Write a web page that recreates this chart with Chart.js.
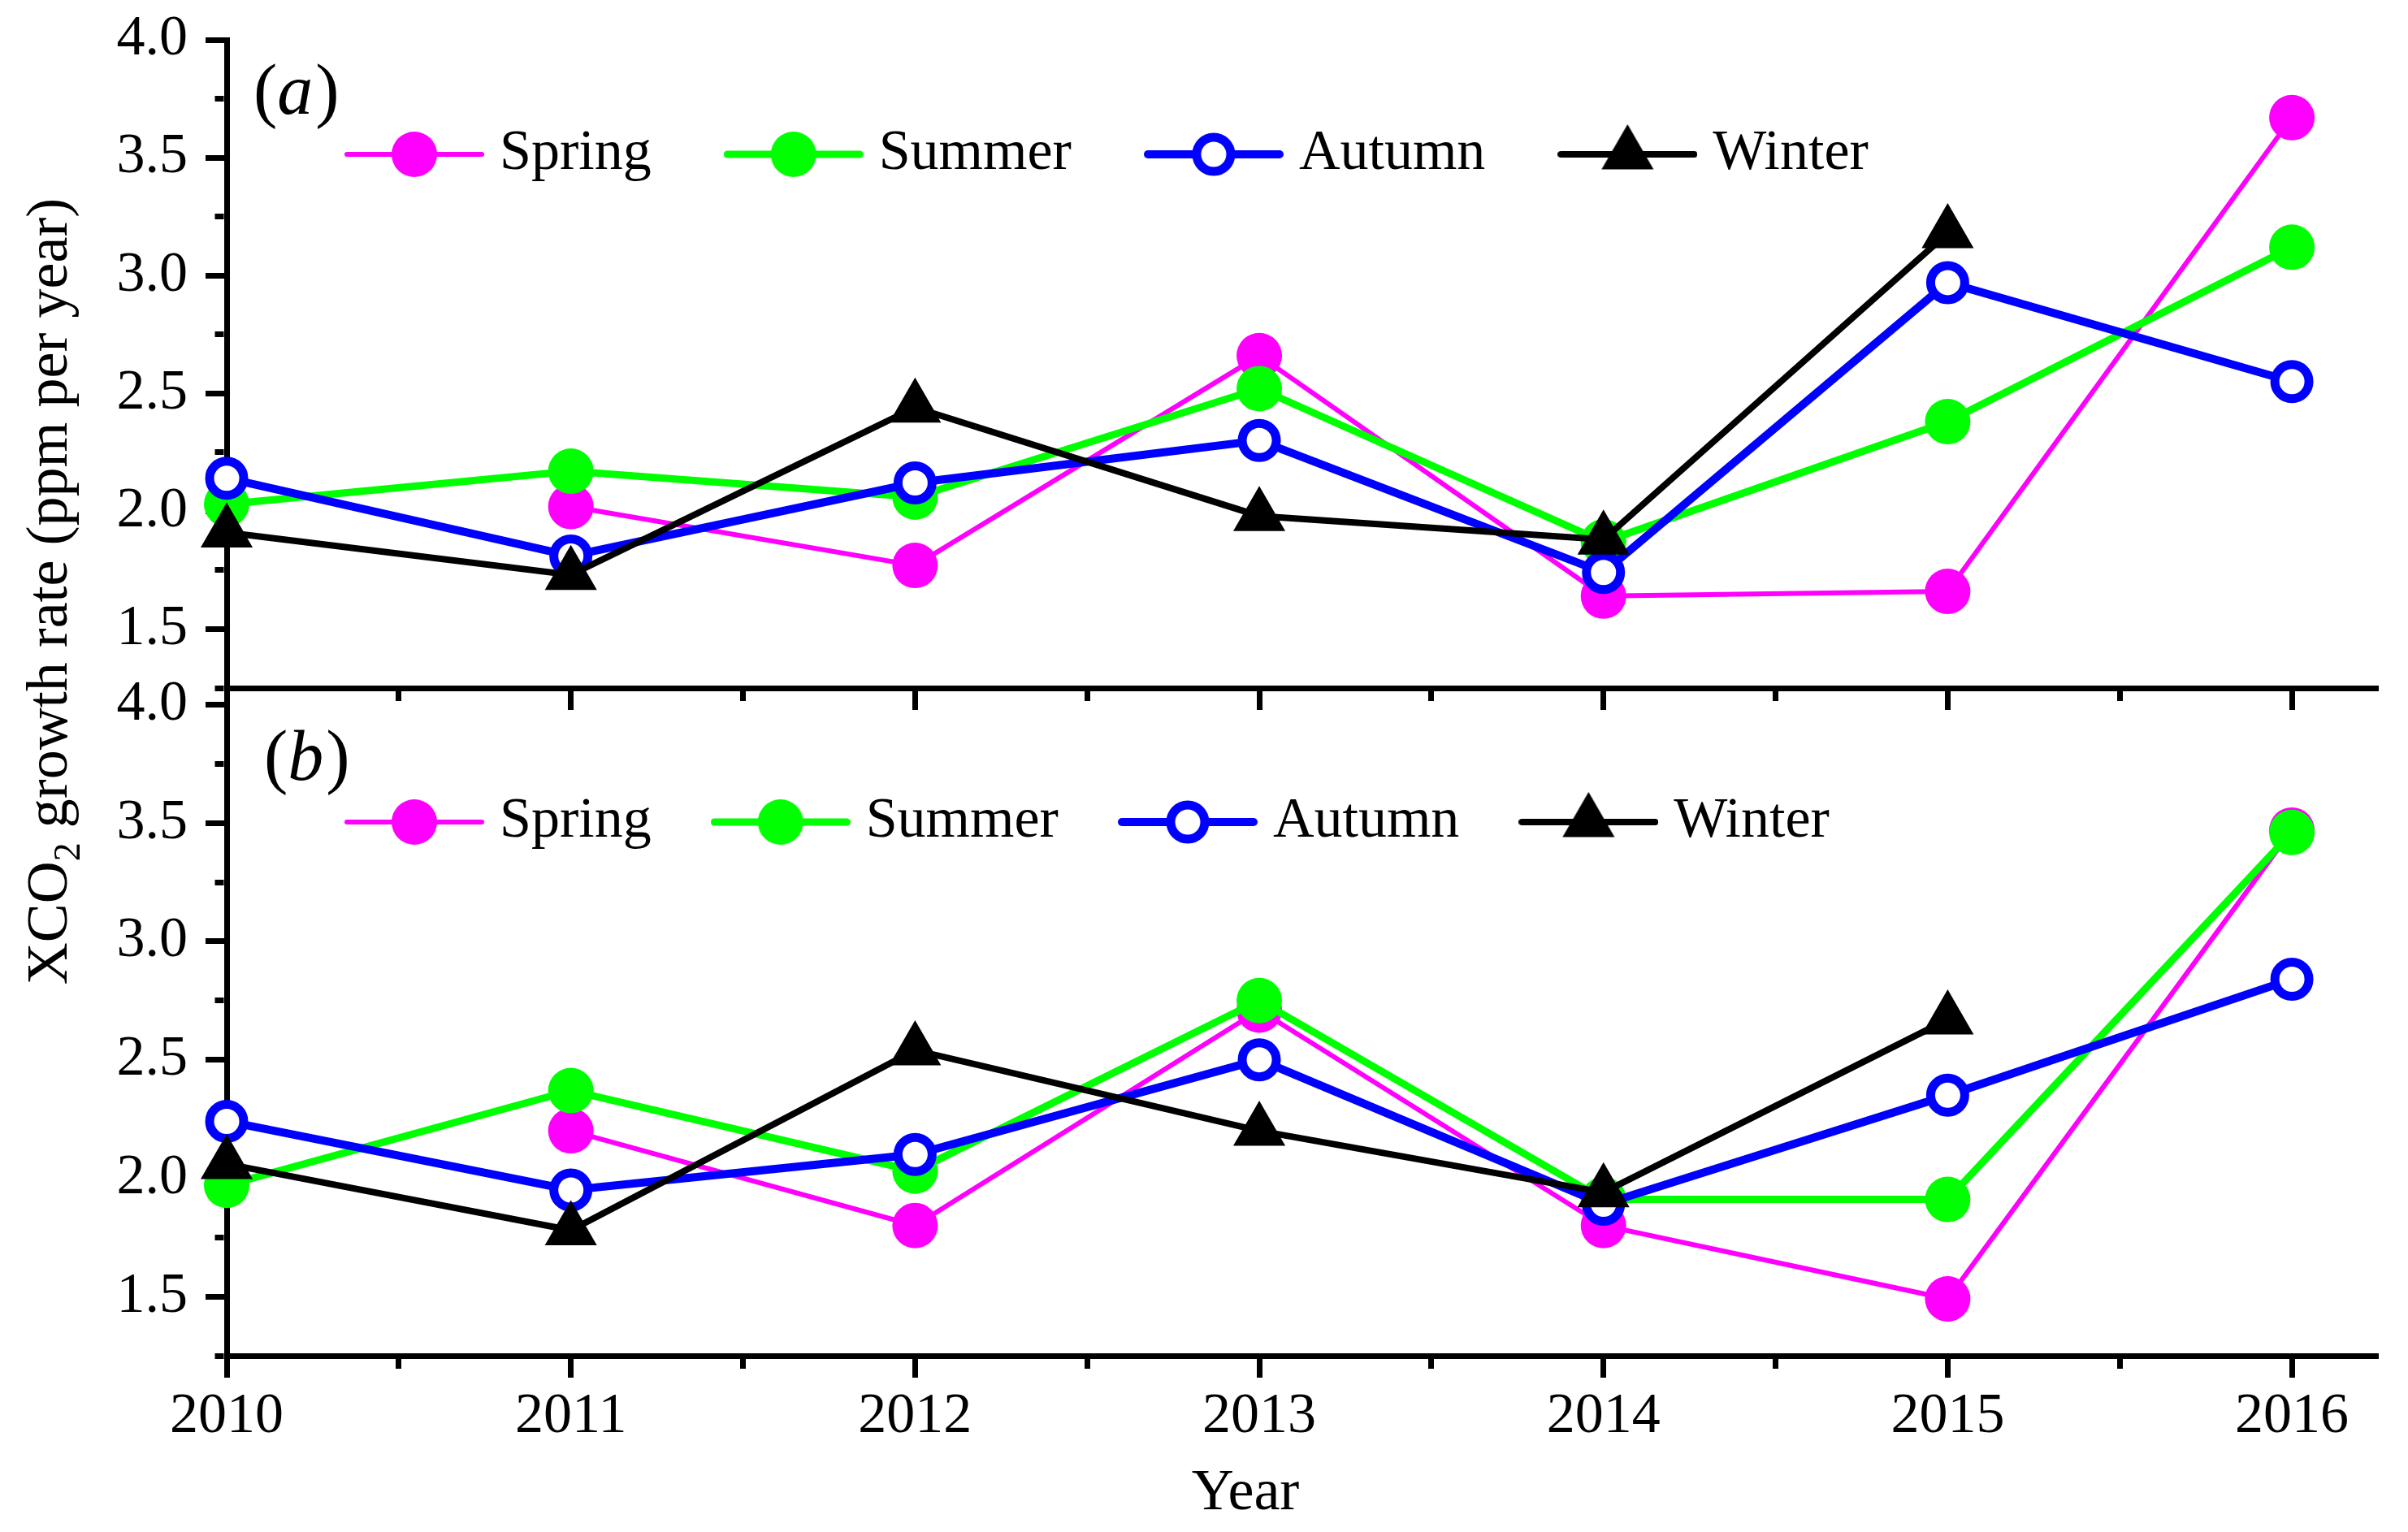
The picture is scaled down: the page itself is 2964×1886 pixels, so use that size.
<!DOCTYPE html>
<html>
<head>
<meta charset="utf-8">
<script src="https://cdn.jsdelivr.net/npm/chart.js@4.4.1/dist/chart.umd.min.js"></script>
<style>
html, body { margin: 0; padding: 0; background: #fff; }
.box { position: absolute; left: 0; top: 0; width: 2964px; height: 1886px; }
</style>
</head>
<body>
<div class="box"><canvas id="chartA"></canvas></div>
<div class="box"><canvas id="chartB"></canvas></div>
<script>
// data
var years = [2010, 2011, 2012, 2013, 2014, 2015, 2016];
var seasons = ["Spring", "Summer", "Autumn", "Winter"];
var yLabelValues = [1.5, 2.0, 2.5, 3.0, 3.5, 4.0];

// panel (a)
var springA = [null, 2.02, 1.77, 2.66, 1.64, 1.66, 3.67];
var summerA = [2.03, 2.17, 2.06, 2.52, 1.87, 2.38, 3.12];
var autumnA = [2.14, 1.81, 2.12, 2.30, 1.74, 2.97, 2.55];
var winterA = [1.91, 1.73, 2.44, 1.98, 1.88, 3.18, null];

// panel (b)
var springB = [null, 2.20, 1.80, 2.71, 1.80, 1.49, 3.47];
var summerB = [1.97, 2.37, 2.03, 2.75, 1.91, 1.91, 3.46];
var autumnB = [2.24, 1.95, 2.10, 2.50, 1.89, 2.35, 2.84];
var winterB = [2.06, 1.78, 2.54, 2.20, 1.94, 2.67, null];

var FONT = '"Liberation Serif", "Times New Roman", serif';

var styles = [
  {color: '#ff00ff', width: 6,  shape: 'circle',   r: 28, fill: '#ff00ff', bw: 0},
  {color: '#00ff00', width: 9,  shape: 'circle',   r: 28, fill: '#00ff00', bw: 0},
  {color: '#0000ff', width: 10, shape: 'circle',   r: 21, fill: '#ffffff', bw: 11},
  {color: '#000000', width: 8,  shape: 'triangle', r: 37, fill: '#000000', bw: 0}
];

// legend symbol: line with marker in the middle
function makeIcon(s) {
  var c = document.createElement('canvas');
  c.width = 172; c.height = 84;
  var g = c.getContext('2d');
  var cy = 42;
  g.strokeStyle = s.color; g.lineWidth = s.width; g.lineCap = 'round';
  g.beginPath(); g.moveTo(s.width / 2, cy); g.lineTo(172 - s.width / 2, cy); g.stroke();
  g.fillStyle = s.fill;
  g.beginPath();
  if (s.shape === 'triangle') {
    for (var k = 0; k < 3; k++) {
      var a = k * 2 * Math.PI / 3;
      var px = 86 + Math.sin(a) * s.r, py = cy - Math.cos(a) * s.r;
      if (k) g.lineTo(px, py); else g.moveTo(px, py);
    }
    g.closePath();
  } else {
    g.arc(86, cy, s.r, 0, 2 * Math.PI);
  }
  g.fill();
  if (s.bw > 0) { g.lineWidth = s.bw; g.strokeStyle = s.color; g.stroke(); }
  return c;
}
var icons = styles.map(makeIcon);

function makeSets(vals) {
  return seasons.map(function(name, i) {
    var s = styles[i];
    return {
      label: name,
      data: years.map(function(y, j) { return {x: y, y: vals[i][j]}; }),
      borderColor: s.color,
      backgroundColor: s.fill,
      borderWidth: s.width,
      pointStyle: s.shape,
      pointRadius: s.r,
      pointHoverRadius: s.r,
      pointBackgroundColor: s.fill,
      pointBorderColor: s.color,
      pointBorderWidth: s.bw,
      tension: 0,
      order: 4 - i,
      clip: false
    };
  });
}

function near(a, b) { return Math.abs(a - b) < 1e-6; }
function isMajorY(v) { return near(v * 2, Math.round(v * 2)); }
function isMajorX(v) { return near(v, Math.round(v)); }

function yTickLabel(v) {
  for (var i = 0; i < yLabelValues.length; i++) {
    if (near(v, yLabelValues[i])) return yLabelValues[i].toFixed(1);
  }
  return '';
}
function xTickLabel(v) {
  var i = years.indexOf(Math.round(v));
  return (isMajorX(v) && i >= 0) ? String(years[i]) : '';
}

// move the legend inside the plot
var legendPos = {
  id: 'legendPos',
  afterLayout: function(chart, args, o) {
    var lg = chart.legend;
    lg.left = o.left; lg.right = 2964; lg.top = o.top; lg.bottom = o.top + 300;
    lg.width = lg.right - lg.left; lg.height = lg.bottom - lg.top;
  }
};

// (a)/(b) tags and the free axis titles
var panelText = {
  id: 'panelText',
  afterDraw: function(chart, args, o) {
    var ctx = chart.ctx;
    ctx.save();
    ctx.fillStyle = '#000';
    ctx.textBaseline = 'alphabetic';
    ctx.textAlign = 'left';
    var x = o.tag.x;
    ctx.font = '88px ' + FONT;
    ctx.fillText('(', x, o.tag.y); x += ctx.measureText('(').width;
    ctx.font = 'italic 88px ' + FONT;
    ctx.fillText(o.tag.letter, x, o.tag.y); x += ctx.measureText(o.tag.letter).width + 3;
    ctx.font = '88px ' + FONT;
    ctx.fillText(')', x, o.tag.y);

    if (o.yTitle) {
      ctx.save();
      ctx.translate(82, 728);
      ctx.rotate(-Math.PI / 2);
      var big = '72px ' + FONT, small = '46px ' + FONT;
      var p1 = 'XCO', p2 = '2', p3 = ' growth rate (ppm per year)';
      ctx.font = big; var w1 = ctx.measureText(p1).width, w3 = ctx.measureText(p3).width;
      ctx.font = small; var w2 = ctx.measureText(p2).width;
      var sx = -(w1 + w2 + w3) / 2;
      ctx.font = big; ctx.fillText(p1, sx, 0);
      ctx.font = small; ctx.fillText(p2, sx + w1, 16);
      ctx.font = big; ctx.fillText(p3, sx + w1 + w2, 0);
      ctx.restore();
    }
    if (o.xTitle) {
      ctx.font = '72px ' + FONT;
      ctx.textAlign = 'center';
      ctx.fillText(o.xTitle, 1533, 1858);
    }
    ctx.restore();
  }
};

function makeOptions(cfg) {
  return {
    responsive: true,
    maintainAspectRatio: false,
    animation: false,
    events: [],
    layout: {padding: cfg.padding},
    scales: {
      x: {
        type: 'linear',
        position: 'bottom',
        min: 2010,
        max: 2016.25,
        afterFit: function(scale) { scale.height = cfg.xHeight; },
        border: {display: true, color: '#000', width: 7},
        grid: {
          drawOnChartArea: false, drawTicks: true, tickLength: 27, tickWidth: 7, tickColor: '#000',
          tickBorderDash: function(c) { return (c.tick && !isMajorX(c.tick.value)) ? [12, 100] : []; },
          tickBorderDashOffset: 0
        },
        ticks: {
          stepSize: 0.5, includeBounds: false, autoSkip: false, maxRotation: 0, padding: 7,
          color: '#000', font: {family: FONT, size: 70},
          callback: function(v) { return cfg.xLabels ? xTickLabel(v) : ''; }
        }
      },
      y: {
        type: 'linear',
        min: 1.25,
        max: cfg.yMax,
        afterFit: function(scale) { scale.width = 279; },
        border: {display: true, color: '#000', width: 7},
        grid: {
          drawOnChartArea: false, drawTicks: true, tickLength: 26, tickWidth: 7, tickColor: '#000',
          tickBorderDash: function(c) { return (c.tick && !isMajorY(c.tick.value)) ? [11, 11.5] : []; },
          tickBorderDashOffset: function(c) { return (c.tick && !isMajorY(c.tick.value)) ? 11 : 0; }
        },
        ticks: {
          stepSize: 0.25, includeBounds: false, autoSkip: false, padding: 22,
          color: '#000', font: {family: FONT, size: 70, lineHeight: 0.4},
          callback: function(v) { return yTickLabel(v); }
        }
      }
    },
    plugins: {
      tooltip: {enabled: false},
      legend: {
        position: 'top',
        align: 'start',
        maxHeight: 1,
        labels: {
          usePointStyle: true,
          pointStyleWidth: 140,
          padding: cfg.legendPad,
          color: '#000',
          font: {family: FONT, size: 70},
          generateLabels: function(chart) {
            return chart.data.datasets.map(function(ds, i) {
              return {text: ds.label, pointStyle: icons[i], datasetIndex: i, fontColor: '#000',
                      hidden: false, lineWidth: 0, strokeStyle: ds.borderColor, fillStyle: ds.backgroundColor};
            });
          }
        }
      },
      legendPos: {left: 440 - cfg.legendPad, top: cfg.legendTop},
      panelText: cfg.text
    }
  };
}

function draw() {
  new Chart(document.getElementById('chartA'), {
    type: 'line',
    data: {datasets: makeSets([springA, summerA, autumnA, winterA])},
    options: makeOptions({
      padding: {left: 0, top: 48, right: 31, bottom: 1886 - 847 - 60},
      xHeight: 60, xLabels: false, yMax: 4.0,
      legendPad: 105, legendTop: 50,
      text: {tag: {letter: 'a', x: 312, y: 140}, yTitle: true}
    }),
    plugins: [legendPos, panelText]
  });
  new Chart(document.getElementById('chartB'), {
    type: 'line',
    data: {datasets: makeSets([springB, summerB, autumnB, winterB])},
    options: makeOptions({
      padding: {left: 0, top: 846, right: 31, bottom: 0},
      xHeight: 1886 - 1669, xLabels: true, yMax: 4.07,
      legendPad: 89, legendTop: 888,
      text: {tag: {letter: 'b', x: 325, y: 960}, xTitle: 'Year'}
    }),
    plugins: [legendPos, panelText]
  });
}

if (document.fonts && document.fonts.load) {
  Promise.all([
    document.fonts.load('70px "Liberation Serif"'),
    document.fonts.load('italic 88px "Liberation Serif"')
  ]).then(draw, draw);
} else {
  draw();
}
</script>
</body>
</html>
